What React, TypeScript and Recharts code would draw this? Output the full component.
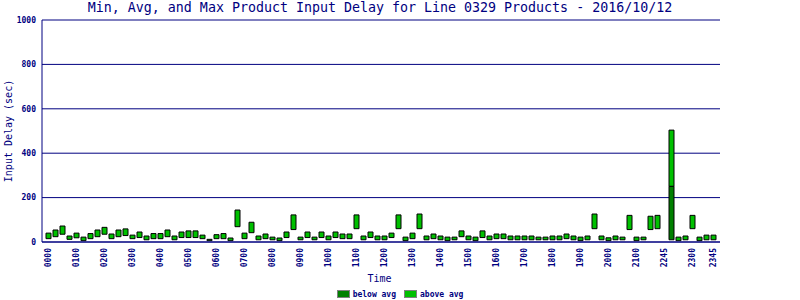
import { BarChart, Bar, XAxis, YAxis, CartesianGrid, Legend } from "recharts";

// 15-minute slots as the report lists them (slot 88 has no data)
const times = [
  "0000", "0015", "0030", "0045", "0100", "0115", "0130", "0145",
  "0200", "0215", "0230", "0245", "0300", "0315", "0330", "0345",
  "0400", "0415", "0430", "0445", "0500", "0515", "0530", "0545",
  "0600", "0615", "0630", "0645", "0700", "0715", "0730", "0745",
  "0800", "0815", "0830", "0845", "0900", "0915", "0930", "0945",
  "1000", "1015", "1030", "1045", "1100", "1115", "1130", "1145",
  "1200", "1215", "1230", "1245", "1300", "1315", "1330", "1345",
  "1400", "1415", "1430", "1445", "1500", "1515", "1530", "1545",
  "1600", "1615", "1630", "1645", "1700", "1715", "1730", "1745",
  "1800", "1815", "1830", "1845", "1900", "1915", "1930", "1945",
  "2000", "2015", "2030", "2045", "2100", "2115", "2130", "2145",
  "2245", "2250", "2255", "2258", "2300", "2315", "2330", "2345",
];

const tickLabels = [
  "0000", "0100", "0200", "0300", "0400", "0500", "0600", "0700",
  "0800", "0900", "1000", "1100", "1200", "1300", "1400", "1500",
  "1600", "1700", "1800", "1900", "2000", "2100", "2245", "2300", "2345",
];

const minDelay = [
  15, 24, 35, 12, 19, 6, 15, 24, 35, 15, 24, 29, 15, 20, 10, 15,
  15, 24, 10, 20, 20, 20, 15, 6, 15, 15, 6, 69, 15, 42, 10, 15,
  10, 6, 20, 56, 10, 20, 10, 20, 10, 20, 15, 15, 60, 10, 20, 10,
  10, 20, 60, 6, 15, 60, 10, 15, 10, 6, 10, 24, 10, 6, 20, 10,
  15, 15, 10, 10, 10, 10, 10, 10, 10, 10, 15, 10, 6, 10, 60, 10,
  6, 10, 10, 56, 6, 10, 56, 60, null, 10, 6, 10, 60, 6, 10, 10,
];

const avgDelay = [
  15, 24, 35, 12, 19, 6, 15, 24, 35, 15, 24, 29, 15, 20, 10, 15,
  15, 24, 10, 20, 20, 20, 15, 6, 15, 15, 6, 69, 15, 42, 10, 15,
  10, 6, 20, 56, 10, 20, 10, 20, 10, 20, 15, 15, 60, 10, 20, 10,
  10, 20, 60, 6, 15, 60, 10, 15, 10, 6, 10, 24, 10, 6, 20, 10,
  15, 15, 10, 10, 10, 10, 10, 10, 10, 10, 15, 10, 6, 10, 60, 10,
  6, 10, 10, 56, 6, 10, 56, 60, null, 251, 6, 10, 60, 6, 10, 10,
];

const maxDelay = [
  40, 54, 72, 27, 40, 22, 38, 54, 66, 36, 54, 59, 31, 45, 27, 38,
  38, 54, 27, 45, 50, 50, 31, 12, 33, 38, 18, 144, 40, 89, 27, 36,
  22, 18, 45, 122, 22, 45, 22, 45, 27, 45, 36, 36, 122, 27, 45, 27,
  27, 40, 122, 22, 40, 126, 27, 36, 27, 22, 22, 50, 27, 22, 50, 27,
  36, 36, 27, 27, 27, 27, 22, 22, 27, 27, 36, 27, 22, 27, 126, 27,
  19, 27, 22, 120, 22, 22, 116, 120, null, 504, 22, 27, 120, 22, 31, 31,
];

const NAVY = "#000080";
const FONT = '"DejaVu Sans Mono", monospace';

const rows = times.map((time, i) => {
  const lo = minDelay[i];
  const mid = avgDelay[i];
  const hi = maxDelay[i];
  if (lo == null || mid == null || hi == null) {
    return { time, base: null, below: null, above: null };
  }
  return { time, base: lo, below: mid - lo, above: hi - mid };
});

function TimeTick({ x, y, payload }: any) {
  return (
    <text
      x={x}
      y={y}
      transform={`rotate(-90 ${x} ${y})`}
      textAnchor="end"
      dominantBaseline="central"
      fill={NAVY}
      fontSize={8}
      fontWeight="bold"
      fontFamily={FONT}
    >
      {payload.value}
    </text>
  );
}

function YTitle({ viewBox }: any) {
  const cy = viewBox && viewBox.height ? viewBox.y + viewBox.height / 2 : 131;
  return (
    <text
      x={8}
      y={cy}
      transform={`rotate(-90 8 ${cy})`}
      textAnchor="middle"
      dominantBaseline="central"
      fill={NAVY}
      fontSize={10}
      fontFamily={FONT}
    >
      Input Delay (sec)
    </text>
  );
}

function XTitle({ viewBox }: any) {
  const cx = viewBox && viewBox.width ? viewBox.x + viewBox.width / 2 - 1.5 : 379;
  return (
    <text
      x={cx}
      y={278}
      textAnchor="middle"
      dominantBaseline="central"
      fill={NAVY}
      fontSize={10}
      fontFamily={FONT}
    >
      Time
    </text>
  );
}

function Swatch({ color, label }: { color: string; label: string }) {
  return (
    <div style={{ display: "flex", alignItems: "center" }}>
      <div
        style={{
          width: 11,
          height: 6,
          background: color,
          border: "1px solid #808080",
          marginRight: 3,
        }}
      />
      <span style={{ fontSize: 8, fontWeight: "bold", color: NAVY, fontFamily: FONT }}>{label}</span>
    </div>
  );
}

function LegendBox() {
  return (
    <div
      style={{
        height: 12,
        display: "flex",
        justifyContent: "center",
        alignItems: "center",
        gap: 8,
      }}
    >
      <Swatch color="#008000" label="below avg" />
      <Swatch color="#00c000" label="above avg" />
    </div>
  );
}

export default function App() {
  return (
    <div style={{ position: "absolute", left: 0, top: 0, width: 800, height: 300, background: "#fff" }}>
      <div
        style={{
          position: "absolute",
          left: 0,
          top: 0,
          width: 760,
          lineHeight: "16px",
          textAlign: "center",
          fontFamily: FONT,
          fontSize: 13.3,
          color: NAVY,
        }}
      >
        Min, Avg, and Max Product Input Delay for Line 0329 Products - 2016/10/12
      </div>
      <BarChart
        width={800}
        height={300}
        data={rows}
        margin={{ top: 20, right: 80, bottom: 0, left: 0 }}
        barSize={5}
      >
        <CartesianGrid horizontal vertical={false} stroke={NAVY} strokeWidth={1} />
        <XAxis
          dataKey="time"
          ticks={tickLabels}
          interval={0}
          height={46}
          padding={{ left: 3, right: 3 }}
          tickLine={false}
          tickSize={4}
          tickMargin={2}
          axisLine={{ stroke: NAVY }}
          tick={<TimeTick />}
          label={<XTitle />}
        />
        <YAxis
          domain={[0, 1000]}
          ticks={[0, 200, 400, 600, 800, 1000]}
          width={42}
          tickLine={false}
          tickSize={4}
          tickMargin={2}
          axisLine={{ stroke: NAVY }}
          tick={{ fontSize: 8, fontWeight: "bold", fill: NAVY, fontFamily: FONT }}
          label={<YTitle />}
        />
        <YAxis
          yAxisId="edge"
          orientation="right"
          domain={[0, 1000]}
          width={0}
          tick={false}
          tickLine={false}
          axisLine={{ stroke: NAVY }}
        />
        <Legend
          verticalAlign="bottom"
          content={<LegendBox />}
          wrapperStyle={{ left: 0, width: 800 }}
        />
        <Bar dataKey="base" stackId="d" fill="transparent" legendType="none" isAnimationActive={false} />
        <Bar dataKey="below" stackId="d" fill="#008000" stroke="#000" strokeWidth={1} isAnimationActive={false} />
        <Bar dataKey="above" stackId="d" fill="#00c000" stroke="#000" strokeWidth={1} isAnimationActive={false} />
      </BarChart>
    </div>
  );
}
